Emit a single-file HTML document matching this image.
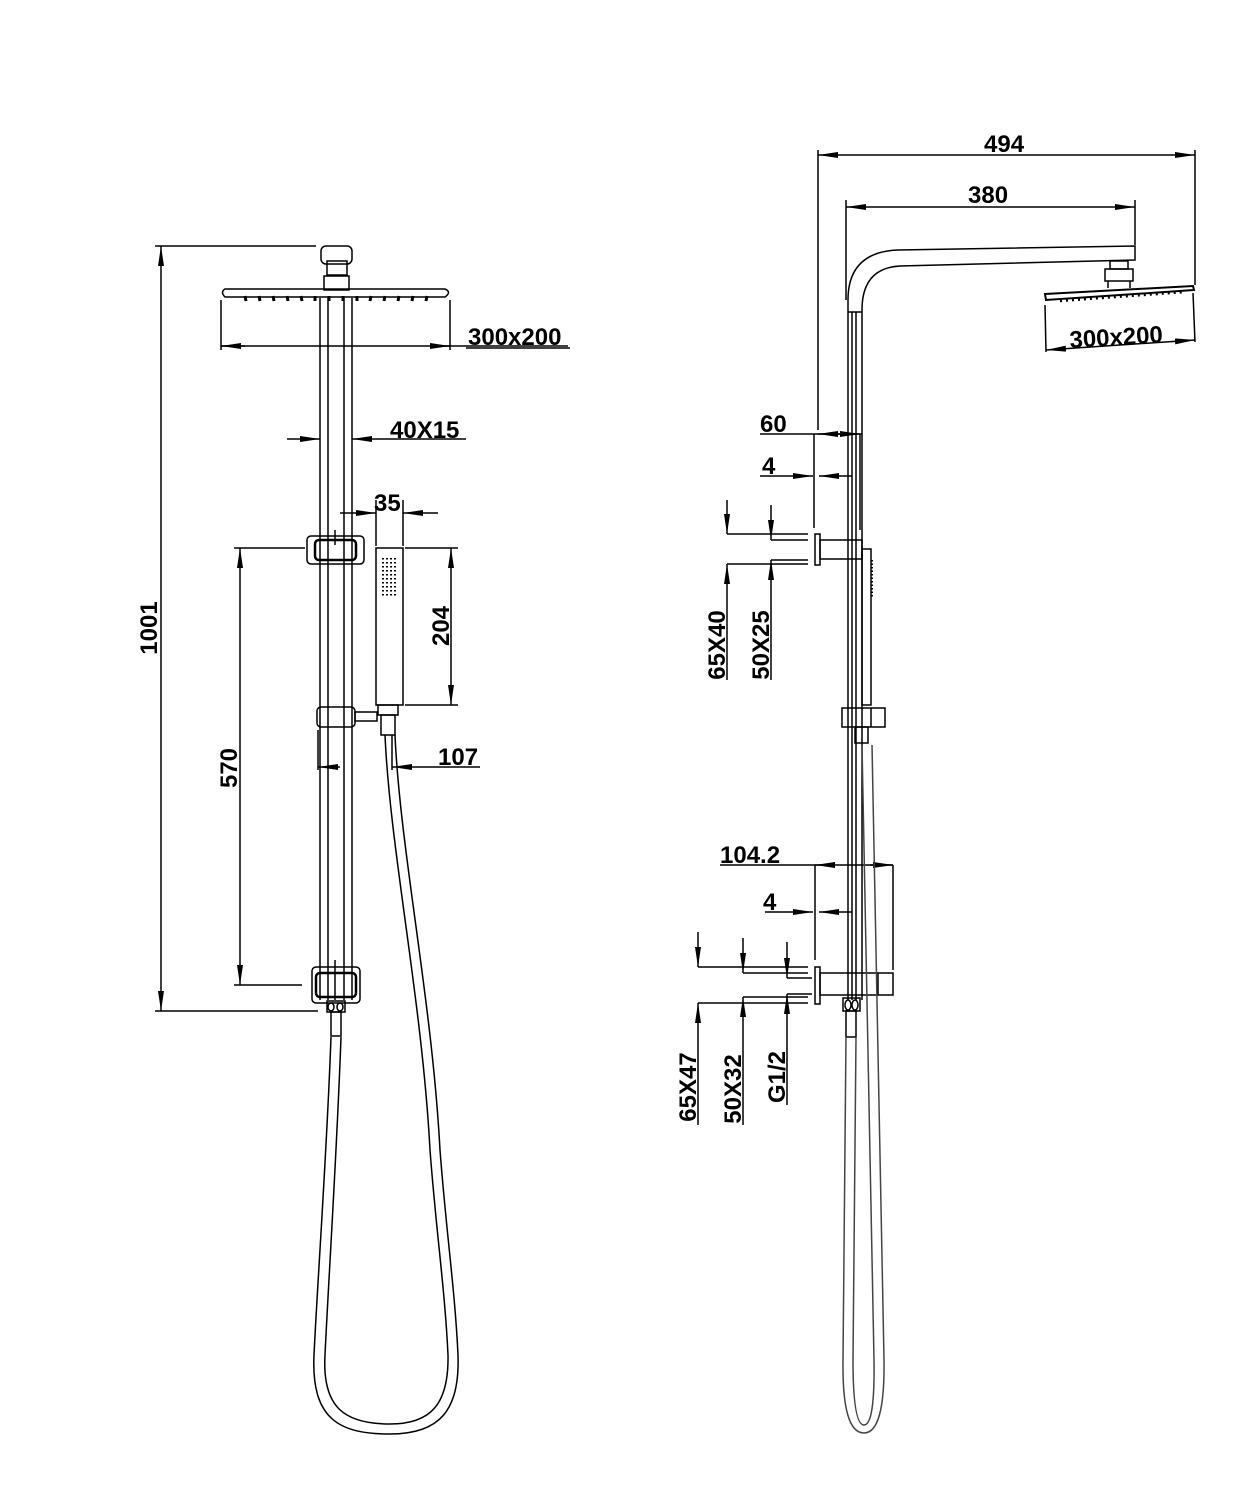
<!DOCTYPE html>
<html><head><meta charset="utf-8"><style>
html,body{margin:0;padding:0;background:#fff;}
svg{display:block;}
text{font-family:"Liberation Sans",Arial,sans-serif;font-weight:bold;font-size:24px;fill:#000;}
</style></head><body>
<svg width="1251" height="1501" viewBox="0 0 1251 1501" xmlns="http://www.w3.org/2000/svg">
<defs>
<marker id="a" viewBox="0 0 20 6" refX="20" refY="3" markerWidth="20" markerHeight="6" markerUnits="userSpaceOnUse" orient="auto-start-reverse"><path d="M0,0 L20,3 L0,6 Z" fill="#000"/></marker>
</defs>
<g stroke="#000" stroke-width="1.5" fill="none">
<!-- LEFT VIEW -->
<line x1="320" y1="298" x2="320" y2="1000"/><line x1="352" y1="298" x2="352" y2="1000"/>
<line x1="328" y1="298" x2="328" y2="1000"/><line x1="344" y1="298" x2="344" y2="1000"/>
<rect x="321" y="246" width="31" height="18" rx="5"/>
<rect x="327" y="261" width="20" height="14"/>
<rect x="324" y="276" width="25" height="14"/>
<path d="M225,289 Q220,292 225,297 L445,297 Q452,292 445,289 Z"/>
<g stroke-width="3">
<line x1="245" y1="296" x2="246" y2="301"/><line x1="259" y1="296" x2="260" y2="301"/><line x1="273" y1="296" x2="274" y2="301"/><line x1="287" y1="296" x2="288" y2="301"/><line x1="301" y1="296" x2="302" y2="301"/><line x1="315" y1="296" x2="315" y2="301"/><line x1="329" y1="296" x2="329" y2="301"/><line x1="343" y1="296" x2="343" y2="301"/><line x1="357" y1="296" x2="357" y2="301"/><line x1="371" y1="296" x2="370" y2="301"/><line x1="385" y1="296" x2="384" y2="301"/><line x1="399" y1="296" x2="398" y2="301"/><line x1="413" y1="296" x2="412" y2="301"/><line x1="427" y1="296" x2="426" y2="301"/>
</g>
<line x1="221" y1="300" x2="221" y2="350"/><line x1="450" y1="300" x2="450" y2="350"/>
<line x1="221" y1="346" x2="568" y2="346"/>
<line x1="245" y1="346" x2="221" y2="346" marker-end="url(#a)"/>
<line x1="430" y1="346" x2="450" y2="346" marker-end="url(#a)"/>
<line x1="155" y1="246" x2="316" y2="246"/><line x1="155" y1="1011" x2="318" y2="1011"/>
<line x1="161" y1="246" x2="161" y2="1011" marker-start="url(#a)" marker-end="url(#a)"/>
<line x1="287" y1="439" x2="320" y2="439" marker-end="url(#a)"/>
<line x1="466" y1="439" x2="352" y2="439" marker-end="url(#a)"/>
<line x1="340" y1="513" x2="376" y2="513" marker-end="url(#a)"/>
<line x1="438" y1="513" x2="403" y2="513" marker-end="url(#a)"/>
<line x1="376" y1="500" x2="376" y2="546"/><line x1="403" y1="500" x2="403" y2="546"/>
<line x1="335" y1="530" x2="335" y2="545"/>
<rect x="307" y="536" width="57" height="28" rx="4"/>
<rect x="315" y="540" width="41" height="20" rx="4" stroke-width="2.5"/>
<rect x="376" y="548" width="27" height="157"/>
<g stroke-dasharray="1.5 2.5" stroke-width="2">
<line x1="383" y1="558" x2="383" y2="598"/><line x1="387" y1="558" x2="387" y2="598"/><line x1="391" y1="558" x2="391" y2="598"/><line x1="395" y1="558" x2="395" y2="598"/>
</g>
<line x1="405" y1="548" x2="458" y2="548"/><line x1="405" y1="705" x2="458" y2="705"/>
<line x1="451" y1="548" x2="451" y2="705" marker-start="url(#a)" marker-end="url(#a)"/>
<rect x="317" y="707" width="38" height="20" rx="4"/>
<rect x="355" y="712" width="22" height="9"/>
<rect x="378" y="705" width="20" height="10"/>
<rect x="381" y="715" width="14" height="20"/>
<line x1="318" y1="730" x2="318" y2="770"/><line x1="392" y1="735" x2="392" y2="770"/>
<line x1="340" y1="767" x2="318" y2="767" marker-end="url(#a)"/>
<line x1="480" y1="767" x2="392" y2="767" marker-end="url(#a)"/>
<line x1="234" y1="548" x2="305" y2="548"/><line x1="234" y1="985" x2="302" y2="985"/>
<line x1="240" y1="548" x2="240" y2="985" marker-start="url(#a)" marker-end="url(#a)"/>
<rect x="312" y="967" width="48" height="36" rx="4"/>
<rect x="316" y="973" width="40" height="24" rx="4" stroke-width="2.5"/>
<line x1="335" y1="960" x2="335" y2="1000"/>
<rect x="327" y="1001" width="18" height="11"/>
<ellipse cx="331" cy="1007" rx="3" ry="4"/><ellipse cx="340" cy="1007" rx="3" ry="4"/>
<rect x="331" y="1012" width="10" height="24"/>
<!-- hose left -->
<path d="M331,1037 C327,1150 317,1290 314,1355 C311,1420 340,1434 390,1434 C440,1434 460,1410 458,1355 C455,1290 446,1230 440,1150 C432,1000 400,850 395,735"/>
<path d="M341,1037 C337,1150 328,1290 325,1355 C322,1408 345,1424 390,1424 C430,1424 449,1405 448,1355 C445,1290 436,1230 430,1150 C422,1000 390,850 385,735"/>

<!-- RIGHT VIEW -->
<line x1="848" y1="312" x2="848" y2="1000"/><line x1="862" y1="312" x2="862" y2="1000"/>
<line x1="852" y1="312" x2="852" y2="1000"/><line x1="856" y1="312" x2="856" y2="1000"/>
<path d="M848,312 L848,300 Q848,252 898,250 L1135,246 L1135,260 L900,266 Q862,268 862,310 L862,312"/>
<line x1="848" y1="312" x2="862" y2="312"/>
<rect x="1110" y="261" width="18" height="8"/>
<rect x="1105" y="269" width="28" height="12"/>
<line x1="1108" y1="281" x2="1108" y2="288"/><line x1="1130" y1="281" x2="1130" y2="288"/>
<path d="M1045,294 L1193,286 L1194,290 L1046,300 Z" stroke-width="2"/>
<g stroke-width="2.5" stroke-dasharray="2 4"><line x1="1060" y1="301" x2="1185" y2="292"/></g>
<line x1="818" y1="150" x2="818" y2="430"/><line x1="1195" y1="150" x2="1195" y2="285"/>
<line x1="818" y1="155" x2="1195" y2="155" marker-start="url(#a)" marker-end="url(#a)"/>
<line x1="846" y1="200" x2="846" y2="300"/><line x1="1135" y1="200" x2="1135" y2="245"/>
<line x1="846" y1="207" x2="1135" y2="207" marker-start="url(#a)" marker-end="url(#a)"/>
<line x1="1045" y1="305" x2="1046" y2="352"/><line x1="1193" y1="293" x2="1195" y2="342"/>
<line x1="1046" y1="350" x2="1195" y2="340" marker-start="url(#a)" marker-end="url(#a)"/>
<line x1="814" y1="434" x2="814" y2="528"/><line x1="860" y1="434" x2="860" y2="530"/>
<line x1="760" y1="434" x2="862" y2="434"/>
<line x1="840" y1="434" x2="818" y2="434" marker-end="url(#a)"/>
<line x1="840" y1="434" x2="860" y2="434" marker-end="url(#a)"/>
<line x1="760" y1="476" x2="813" y2="476" marker-end="url(#a)"/>
<line x1="852" y1="476" x2="819" y2="476" marker-end="url(#a)"/>
<rect x="815" y="534" width="5" height="31"/>
<rect x="820" y="540" width="42" height="19"/>
<rect x="862" y="549" width="9" height="156"/>
<g stroke-dasharray="1.5 2" stroke-width="2"><line x1="872" y1="560" x2="872" y2="598"/></g>
<line x1="727" y1="500" x2="727" y2="534" marker-end="url(#a)"/>
<line x1="727" y1="534" x2="808" y2="534"/>
<line x1="771" y1="505" x2="771" y2="540" marker-end="url(#a)"/>
<line x1="771" y1="540" x2="808" y2="540"/>
<line x1="771" y1="560" x2="808" y2="560"/>
<line x1="771" y1="680" x2="771" y2="560" marker-end="url(#a)"/>
<line x1="727" y1="564" x2="808" y2="564"/>
<line x1="727" y1="680" x2="727" y2="564" marker-end="url(#a)"/>
<rect x="842" y="708" width="43" height="19"/>
<line x1="871" y1="708" x2="871" y2="727"/>
<rect x="855" y="727" width="13" height="16"/>
<line x1="815" y1="865" x2="815" y2="960"/><line x1="893" y1="865" x2="893" y2="970"/>
<line x1="720" y1="865" x2="893" y2="865"/>
<line x1="835" y1="865" x2="815" y2="865" marker-end="url(#a)"/>
<line x1="870" y1="865" x2="893" y2="865" marker-end="url(#a)"/>
<line x1="765" y1="912" x2="813" y2="912" marker-end="url(#a)"/>
<line x1="852" y1="912" x2="819" y2="912" marker-end="url(#a)"/>
<rect x="815" y="967" width="5" height="37"/>
<rect x="820" y="973" width="73" height="22"/>
<line x1="878" y1="973" x2="878" y2="995"/>
<rect x="843" y="998" width="17" height="13"/>
<ellipse cx="848" cy="1005" rx="3" ry="5"/><ellipse cx="855" cy="1005" rx="3" ry="5"/>
<rect x="846" y="1011" width="10" height="26"/>
<line x1="698" y1="932" x2="698" y2="967" marker-end="url(#a)"/>
<line x1="698" y1="967" x2="808" y2="967"/>
<line x1="743" y1="938" x2="743" y2="973" marker-end="url(#a)"/>
<line x1="743" y1="973" x2="808" y2="973"/>
<line x1="787" y1="942" x2="787" y2="978" marker-end="url(#a)"/>
<line x1="787" y1="978" x2="812" y2="978"/>
<line x1="787" y1="994" x2="812" y2="994"/>
<line x1="787" y1="1105" x2="787" y2="994" marker-end="url(#a)"/>
<line x1="743" y1="997" x2="808" y2="997"/>
<line x1="743" y1="1125" x2="743" y2="997" marker-end="url(#a)"/>
<line x1="698" y1="1003" x2="808" y2="1003"/>
<line x1="698" y1="1125" x2="698" y2="1003" marker-end="url(#a)"/>
<!-- hose right -->
<path d="M846,1037 L843,1360 Q842,1433 864,1433 Q885,1433 884,1360 L872,745" stroke="#444"/>
<path d="M856,1037 L853,1360 Q853,1425 864,1425 Q875,1425 874,1360 L862,745" stroke="#444"/>
</g>
<text x="468" y="345">300x200</text>
<line x1="466" y1="348" x2="570" y2="348" stroke="#000" stroke-width="1.5"/>
<text x="390" y="438">40X15</text>
<text x="374" y="511">35</text>
<text x="438" y="765">107</text>
<text transform="translate(157,628) rotate(-90)" text-anchor="middle">1001</text>
<text transform="translate(449,626) rotate(-90)" text-anchor="middle">204</text>
<text transform="translate(237,768) rotate(-90)" text-anchor="middle">570</text>
<text x="984" y="152">494</text>
<text x="968" y="203">380</text>
<text transform="translate(1070,348) rotate(-3.5)">300x200</text>
<text x="760" y="432">60</text>
<text x="762" y="474">4</text>
<text x="720" y="863">104.2</text>
<text x="763" y="910">4</text>
<text transform="translate(725,645) rotate(-90)" text-anchor="middle">65X40</text>
<text transform="translate(769,645) rotate(-90)" text-anchor="middle">50X25</text>
<text transform="translate(696,1087) rotate(-90)" text-anchor="middle">65X47</text>
<text transform="translate(741,1089) rotate(-90)" text-anchor="middle">50X32</text>
<text transform="translate(785,1077) rotate(-90)" text-anchor="middle">G1/2</text>
</svg>
</body></html>
